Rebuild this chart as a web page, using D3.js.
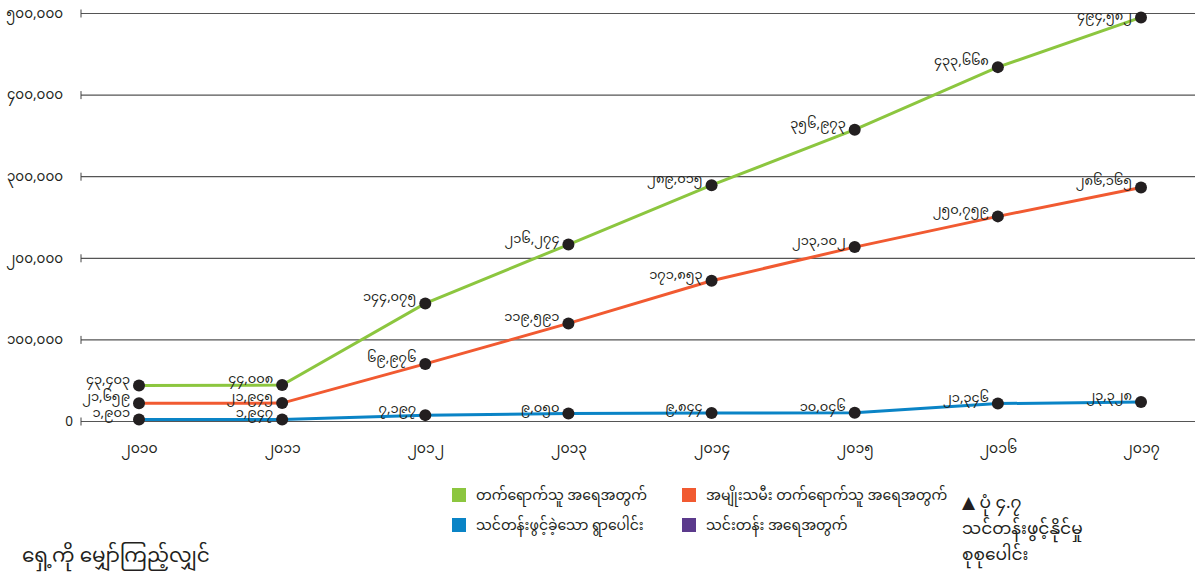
<!DOCTYPE html>
<html>
<head>
<meta charset="utf-8">
<script src="https://cdn.jsdelivr.net/npm/d3@7"></script>
<style>
  body { margin: 0; background: #fff; }
  svg text { font-family: "Noto Sans Myanmar", "Noto Sans", "DejaVu Sans", sans-serif; fill: #231f20; }
</style>
</head>
<body>
<div id="chart"></div>
<script>
// years on the x axis
let years = [2010, 2011, 2012, 2013, 2014, 2015, 2016, 2017];
// series values
let greenVals = [43403, 44008, 144075, 216274, 289015, 356973, 433668, 494582];
let redVals = [21659, 21945, 69976, 119591, 171853, 213102, 250759, 286165];
let blueVals = [1901, 1947, 7197, 9050, 9844, 10046, 21346, 23328];
let yTicks = [0, 100000, 200000, 300000, 400000, 500000];

let legendNames = [
  "တက်ရောက်သူ အရေအတွက်",
  "အမျိုးသမီး တက်ရောက်သူ အရေအတွက်",
  "သင်တန်းဖွင့်ခဲ့သော ရွာပေါင်း",
  "သင်းတန်း အရေအတွက်"
];
let colors = {
  "green": "#8cc63f",
  "red": "#f15a31",
  "blue": "#0a84c6",
  "purple": "#5b3a8c"
};

let width = 1195, height = 585;

// convert latin digits to myanmar digits
function mm(s) {
  return String(s).replace(/[0-9]/g, d => String.fromCharCode(0x1040 + (+d)));
}
function fmt(v) {
  return mm(d3.format(",")(v));
}

let svg = d3.select("#chart").append("svg")
  .attr("width", width)
  .attr("height", height);

let xScale = d3.scalePoint()
  .domain(years)
  .range([139, 1141]);
let yScale = d3.scaleLinear()
  .domain([0, 500000])
  .range([421, 13]);

// grid lines with the little tick at the left end
let yAxis = d3.axisLeft(yScale)
  .tickValues(yTicks)
  .tickSize(-(width - 81))
  .tickFormat(d => d == 0 ? "0" : fmt(d));

let yAxisG = svg.append("g")
  .attr("transform", "translate(81,0)")
  .call(yAxis);
yAxisG.select(".domain").remove();
yAxisG.selectAll(".tick line")
  .attr("stroke", "#555")
  .attr("stroke-width", 1.2);
yAxisG.selectAll(".tick text")
  .attr("x", d => d == 0 ? -8 : -18)
  .attr("font-size", 13.5)
  .attr("fill", "#231f20");
yAxisG.selectAll(".tick").append("line")
  .attr("y1", -4).attr("y2", 4)
  .attr("stroke", "#444");

// x axis labels only
let xAxis = d3.axisBottom(xScale)
  .tickSize(0)
  .tickFormat(d => mm(d));
let xAxisG = svg.append("g")
  .attr("transform", "translate(0,440)")
  .call(xAxis);
xAxisG.select(".domain").remove();
xAxisG.selectAll("text")
  .attr("font-size", 14)
  .attr("fill", "#231f20");

let line = d3.line()
  .x((d, i) => xScale(years[i]))
  .y(d => yScale(d));

let series = [
  { vals: blueVals, color: colors.blue },
  { vals: redVals, color: colors.red },
  { vals: greenVals, color: colors.green }
];

series.forEach(s => {
  svg.append("path")
    .datum(s.vals)
    .attr("d", line)
    .attr("fill", "none")
    .attr("stroke", s.color)
    .attr("stroke-width", 3);
});

series.forEach(s => {
  svg.append("g").selectAll("circle")
    .data(s.vals)
    .enter()
    .append("circle")
    .attr("cx", (d, i) => xScale(years[i]))
    .attr("cy", d => yScale(d))
    .attr("r", 6)
    .attr("fill", "#231f20");

  svg.append("g").selectAll("text")
    .data(s.vals)
    .enter()
    .append("text")
    .attr("x", (d, i) => xScale(years[i]) - 9)
    .attr("y", d => Math.max(yScale(d) - 2, 20))
    .attr("text-anchor", "end")
    .attr("font-size", 13)
    .text(d => fmt(d));
});

// legend
let legendColors = [colors.green, colors.red, colors.blue, colors.purple];
let legend = svg.append("g").selectAll("g")
  .data(legendNames)
  .enter()
  .append("g")
  .attr("transform", (d, i) => "translate(" + (i % 2 == 0 ? 452 : 682) + "," + (i < 2 ? 488 : 518) + ")");
legend.append("rect")
  .attr("width", 14)
  .attr("height", 14)
  .attr("fill", (d, i) => legendColors[i]);
legend.append("text")
  .attr("x", 24)
  .attr("y", 12)
  .attr("font-size", 14)
  .text(d => d);

// figure note, bottom right
let note = svg.append("text")
  .attr("font-size", 17);
note.append("tspan").attr("x", 962).attr("y", 508).text("▲ ပုံ ၄.၇");
note.append("tspan").attr("x", 962).attr("y", 534).text("သင်တန်းဖွင့်နိုင်မှု");
note.append("tspan").attr("x", 962).attr("y", 560).text("စုစုပေါင်း");

svg.append("text")
  .attr("x", 22)
  .attr("y", 562)
  .attr("font-size", 20)
  .text("ရှေ့ကို မျှော်ကြည့်လျှင်");
</script>
</body>
</html>
